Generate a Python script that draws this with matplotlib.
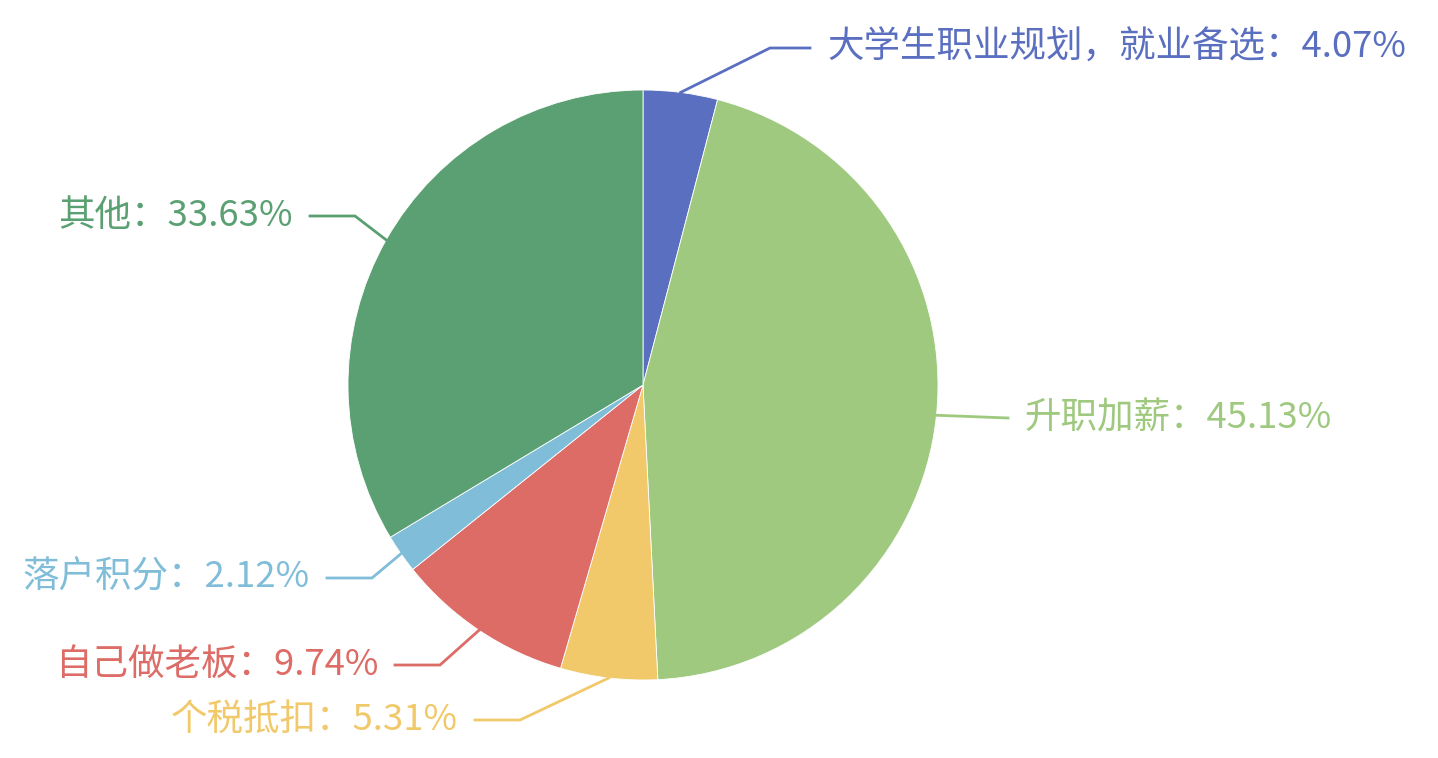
import matplotlib
matplotlib.use("Agg")
import matplotlib.pyplot as plt
import numpy as np

plt.rcParams['font.family'] = ['Noto Sans CJK SC', 'DejaVu Sans']

# data
names = ["大学生职业规划，就业备选", "升职加薪", "个税抵扣", "自己做老板", "落户积分", "其他"]
shares = [4.07, 45.13, 5.31, 9.74, 2.12, 33.63]
colors = ["#5b6fc1", "#9ec97f", "#f1c96a", "#dd6b66", "#80bdd9", "#5aa072"]

# label layout (pixel coords, y from top): elbow point, text y, side
elbow_x = [770, 1008, 520, 440, 372, 355]
label_y = [48, 418, 720, 665, 578, 216]
side = [1, 1, -1, -1, -1, -1]

W, H = 1438, 758
cx, cy, R = 643, 385, 295

fig = plt.figure(figsize=(W / 100, H / 100), dpi=100)
ax = fig.add_axes([0, 0, 1, 1])

ax.pie(shares, colors=colors, startangle=90, counterclock=False,
       center=(cx, H - cy), radius=R, frame=True,
       wedgeprops=dict(linewidth=0.6, edgecolor="white"))
ax.set_xlim(0, W)
ax.set_ylim(0, H)
ax.set_aspect("equal")
ax.axis("off")

cum = np.cumsum([0] + shares[:-1])
for i, name in enumerate(names):
    mid = (cum[i] + shares[i] / 2) / sum(shares) * 2 * np.pi
    ex = cx + R * np.sin(mid)
    ey = cy - R * np.cos(mid)
    ly = label_y[i]
    kx = elbow_x[i]
    if side[i] > 0:
        hx = kx + 40 if i == 0 else kx
    else:
        hx = kx - 45
    ax.plot([ex, kx, hx], [H - ey, H - ly, H - ly], color=colors[i], lw=2,
            solid_joinstyle="miter")
    tx = hx + 17 * side[i]
    ax.text(tx, H - ly, f"{name}：{shares[i]:.2f}%", color=colors[i], fontsize=26.3,
            ha="left" if side[i] > 0 else "right", va="center")

fig.savefig("out.png", dpi=100)
